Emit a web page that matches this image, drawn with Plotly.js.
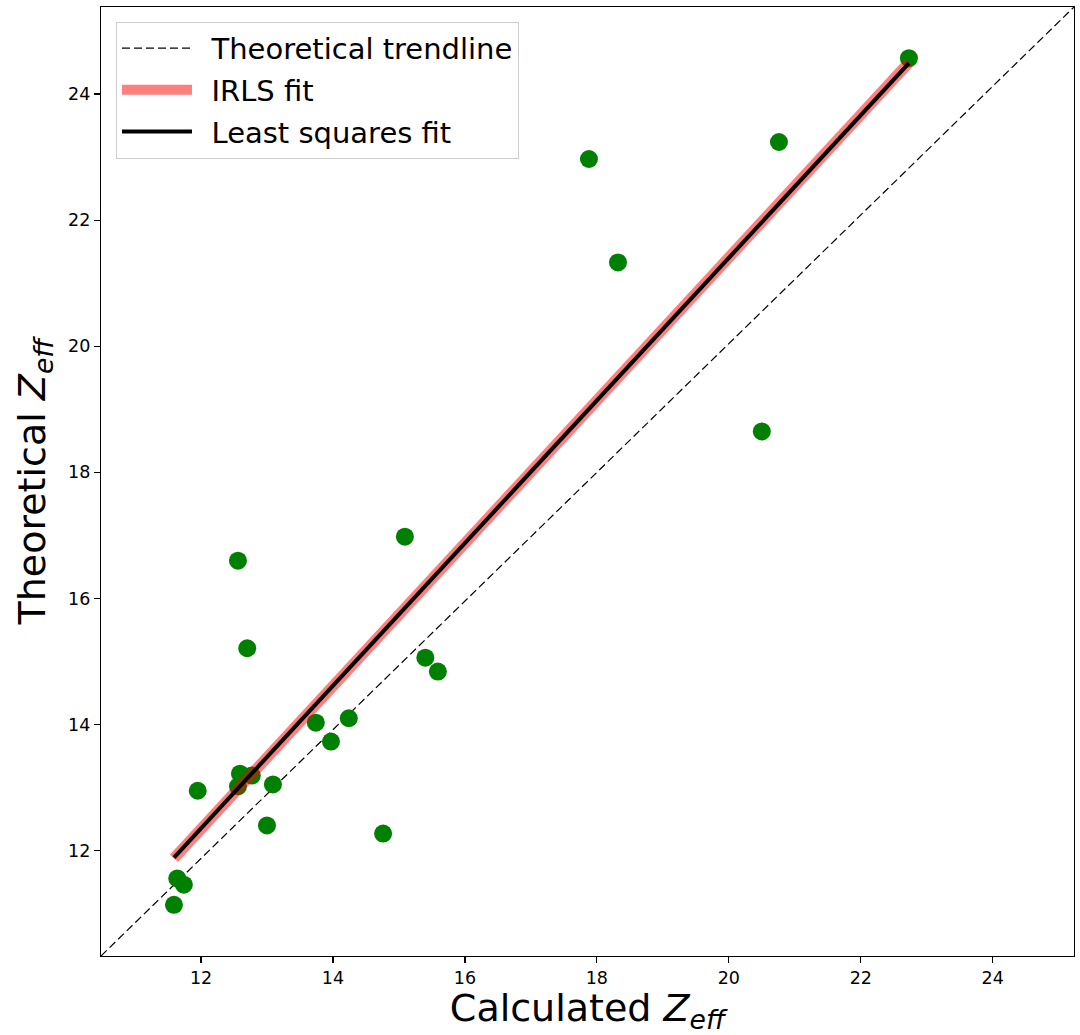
<!DOCTYPE html>
<html>
<head>
<meta charset="utf-8">
<script src="https://cdn.plot.ly/plotly-3.0.1.min.js"></script>
<style>html,body{margin:0;padding:0;background:#fff;}#chart{width:1080px;height:1035px;}</style>
</head>
<body>
<div id="chart"></div>
<script>
// Measured points (calculated Z_eff, theoretical Z_eff)
const calcZ = [22.73, 20.76, 17.88, 18.32, 20.50, 15.09, 12.56, 12.70, 15.40, 15.59,
               13.74, 14.24, 13.97, 12.59, 12.77, 12.56, 13.09, 11.95, 13.00, 14.76,
               11.64, 11.74, 11.59];
const theoZ = [24.57, 23.24, 22.97, 21.33, 18.65, 16.98, 16.60, 15.21, 15.06, 14.84,
               14.03, 14.10, 13.73, 13.22, 13.19, 13.02, 13.05, 12.95, 12.40, 12.27,
               11.56, 11.46, 11.14];
// Axis limits
const xRange = [10.484, 25.232];
const yRange = [10.329, 25.381];
// Theoretical trendline: drawn corner to corner of the axes limits
const trendX = [10.484, 25.232];
const trendY = [10.329, 25.381];
// Fit line end points
const fitX = [11.59, 22.73];
const irlsY = [11.88, 24.50];
const lsqY = [11.89, 24.49];
const tickVals = [12, 14, 16, 18, 20, 22, 24];
const tickText = ['12', '14', '16', '18', '20', '22', '24'];
const legendNames = ['\u2002Theoretical trendline', '\u2002IRLS fit', '\u2002Least squares fit'];

const FONT = 'DejaVu Sans, sans-serif';

const traces = [
  {x: trendX, y: trendY, mode: 'lines', name: legendNames[0], legendgroup: 'a',
   line: {color: 'black', width: 1.2, dash: '8px,4px'}, legendrank: 1},
  {x: calcZ, y: theoZ, mode: 'markers', showlegend: false,
   marker: {color: '#008000', size: 18, line: {width: 0}}},
  {x: fitX, y: irlsY, mode: 'lines', name: legendNames[1], legendgroup: 'b',
   line: {color: 'rgba(255,0,0,0.5)', width: 11}, legendrank: 2},
  {x: fitX, y: lsqY, mode: 'lines', name: legendNames[2], legendgroup: 'c',
   line: {color: 'black', width: 4}, legendrank: 3}
];

const axisCommon = {
  showgrid: false, zeroline: false, showline: true, mirror: true,
  linecolor: 'black', linewidth: 1.2, ticks: 'outside', ticklen: 6,
  tickwidth: 1.2, tickcolor: 'black', tickvals: tickVals, ticktext: tickText,
  tickfont: {family: FONT, size: 17.5, color: 'black'}, automargin: false
};

const layout = {
  width: 1080, height: 1035,
  margin: {l: 101, r: 6, t: 7, b: 79},
  paper_bgcolor: 'white', plot_bgcolor: 'white',
  showlegend: true,
  xaxis: Object.assign({}, axisCommon, {
    range: xRange,
    title: {text: 'Calculated <i>Z</i><sub><i>eff</i></sub>', standoff: 9,
            font: {family: FONT, size: 38, color: 'black'}}
  }),
  yaxis: Object.assign({}, axisCommon, {
    range: yRange,
    title: {text: 'Theoretical <i>Z</i><sub><i>eff</i></sub>', standoff: 10,
            font: {family: FONT, size: 38, color: 'black'}}
  }),
  legend: {
    x: 0.0154, y: 0.9845, xanchor: 'left', yanchor: 'top',
    bgcolor: 'rgba(255,255,255,0.8)', bordercolor: '#cccccc', borderwidth: 1,
    font: {family: FONT, size: 29, color: 'black'},
    itemwidth: 70, tracegroupgap: 1
  }
};

Plotly.newPlot('chart', traces, layout, {displayModeBar: false, staticPlot: true});
</script>
</body>
</html>
